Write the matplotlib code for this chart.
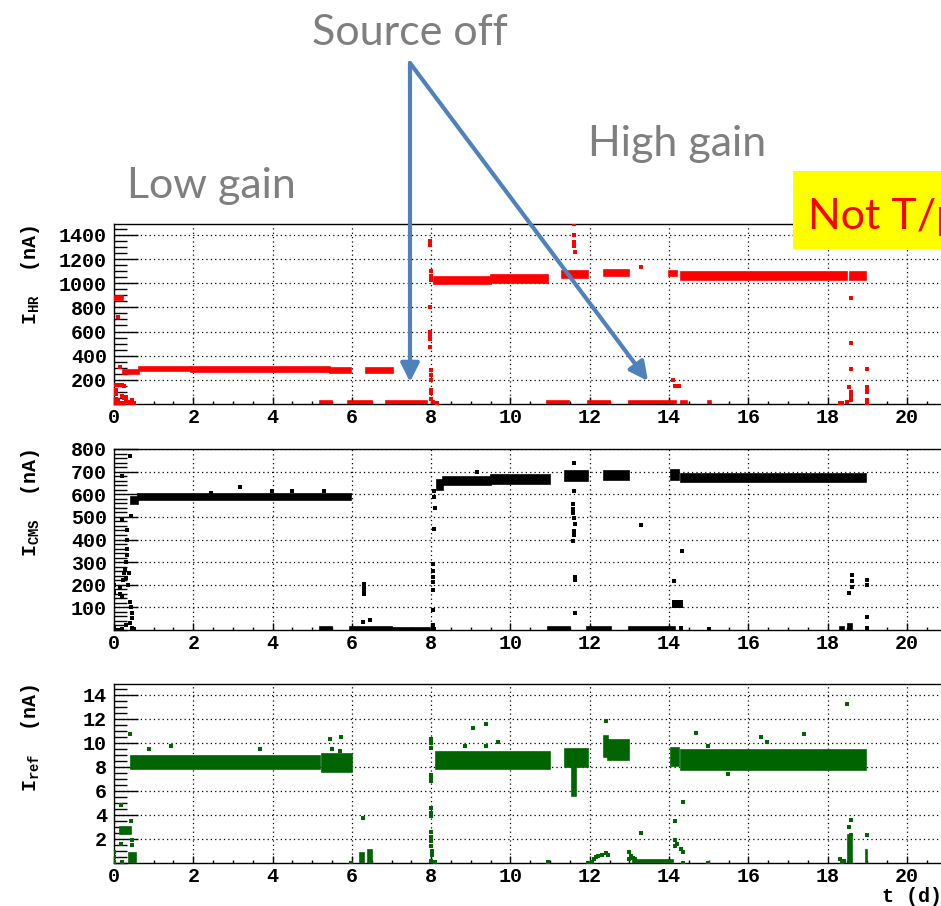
import matplotlib
matplotlib.use("Agg")
import matplotlib.pyplot as plt
from matplotlib.patches import Rectangle, FancyArrowPatch
from matplotlib.ticker import MultipleLocator, FixedLocator

plt.rcParams['font.family'] = ['Liberation Mono', 'DejaVu Sans Mono']
plt.rcParams['font.weight'] = 'bold'
plt.rcParams['mathtext.fontset'] = 'custom'
plt.rcParams['mathtext.rm'] = 'Liberation Mono:bold'
plt.rcParams['mathtext.it'] = 'Liberation Mono:bold'
plt.rcParams['mathtext.bf'] = 'Liberation Mono:bold'

# ---- I_HR (nA) ----
# dense stretches: start day, end day, low, high
hr_band_t0 = [0.0, 0.22, 0.62, 1.95, 5.45, 6.35, 8.08, 9.5, 11.31, 12.36, 14.0, 14.3, 18.56,
              5.2, 5.9, 6.85, 10.93, 11.95, 12.98, 14.3, 14.98]
hr_band_t1 = [0.22, 0.62, 1.95, 5.45, 5.97, 7.03, 9.5, 10.95, 11.96, 12.98, 14.2, 18.5, 18.96,
              5.5, 6.5, 7.9, 11.48, 12.5, 14.18, 14.45, 15.07]
hr_band_lo = [860, 245, 275, 265, 255, 260, 995, 1005, 1045, 1060, 1060, 1030, 1030,
              0, 0, 0, 0, 0, 0, 0, 0]
hr_band_hi = [895, 285, 310, 305, 300, 300, 1050, 1070, 1100, 1110, 1100, 1095, 1095,
              25, 25, 25, 25, 25, 25, 25, 25]
# isolated readings
hr_t = [0.1, 0.15, 0.05, 0.1, 0.15, 0.2, 0.25, 0.05, 0.05, 0.05, 0.05, 0.2, 0.25, 0.3, 0.3,
        0.35, 0.4, 0.45, 0.45, 0.5, 0.15, 0.25, 0.1,
        7.97, 7.97, 8.0, 8.0, 8.0, 7.98, 7.97, 7.97, 7.97, 7.97, 7.99, 7.99, 7.99, 8.0, 8.0,
        8.0, 8.05, 8.15,
        11.6, 11.6, 11.6, 11.6, 11.62, 13.28, 14.1, 14.15, 14.25,
        18.6, 18.6, 18.6, 18.55, 18.6, 18.6, 18.6, 18.5, 18.35, 18.3,
        18.98, 18.98, 18.98, 18.98, 18.98, 18.98]
hr_y = [720, 310, 160, 160, 160, 160, 150, 120, 80, 40, 10, 70, 50, 30, 60,
        20, 10, 30, 5, 10, 10, 10, 30,
        1350, 1320, 1100, 1060, 1030, 800, 600, 570, 540, 470, 280, 240, 200, 120, 90,
        40, 20, 10,
        1490, 1400, 1340, 1310, 1260, 1130, 200, 150, 150,
        874, 504, 293, 137, 100, 66, 33, 20, 10, 5,
        293, 140, 120, 100, 36, 5]

# ---- I_CMS (nA) ----
cms_band_t0 = [0.43, 0.6, 5.95, 7.0, 5.2, 8.15, 8.3, 9.5, 11.37, 12.36, 14.04, 14.3,
               10.95, 11.94, 12.98, 18.3, 18.52]
cms_band_t1 = [0.6, 5.98, 7.0, 7.97, 5.5, 8.3, 9.5, 11.0, 11.96, 12.98, 14.24, 18.97,
               11.5, 12.53, 14.15, 18.4, 18.62]
cms_band_lo = [555, 575, 0, 0, 0, 620, 640, 645, 658, 665, 665, 655,
               0, 0, 0, 0, 0]
cms_band_hi = [590, 600, 15, 8, 15, 665, 675, 687, 702, 702, 705, 690,
               15, 15, 15, 15, 25]
cms_t = [0.41, 0.21, 0.21, 0.43, 0.32, 0.33, 0.32, 0.33, 0.3, 0.28, 0.25, 0.3, 0.22, 0.35,
         0.38, 0.0, 0.0, 0.15, 0.15, 0.2, 0.4, 0.42, 0.45, 0.45, 0.0, 0.1, 0.2, 0.3, 0.4,
         0.45, 0.5,
         3.18, 3.98, 4.48, 5.3, 2.45,
         6.28, 6.45, 6.3, 6.3, 6.3, 6.3,
         8.05, 8.05, 8.05, 8.05, 8.05, 8.05, 8.08, 8.1, 8.08, 8.08, 8.05, 8.08,
         9.15,
         11.6, 11.6, 11.58, 11.58, 11.58, 11.6, 11.62, 11.6, 11.6, 11.58, 11.62, 11.62, 11.62,
         13.28, 14.33, 14.12, 14.12, 14.2, 14.3, 14.12, 14.2, 14.3, 14.3, 15.0,
         18.54, 18.62, 18.62, 18.62, 18.98, 18.98, 18.98, 18.98]
cms_y = [767, 680, 485, 504, 440, 400, 360, 330, 300, 270, 250, 230, 220, 200,
         250, 200, 170, 190, 160, 150, 124, 102, 73, 55, 10, 0, 5, 20, 30,
         10, 5,
         632, 614, 614, 614, 605,
         37, 44, 205, 190, 175, 160,
         88, 175, 292, 260, 235, 212, 446, 538, 614, 590, 20, 5,
         699,
         738, 614, 556, 535, 519, 497, 468, 439, 420, 395, 234, 220, 76,
         465, 351, 216, 124, 124, 124, 105, 105, 105, 10, 5,
         164, 241, 215, 190, 219, 197, 58, 8]

# ---- I_ref (nA) ----
ref_band_t0 = [0.43, 5.25, 8.12, 11.37, 11.55, 12.36, 12.45, 14.04, 14.3, 13.1,
               18.52, 18.96, 6.2, 6.4, 0.38, 0.15]
ref_band_t1 = [5.2, 6.0, 11.0, 11.96, 11.65, 12.45, 13.0, 14.24, 18.97, 14.1,
               18.62, 19.0, 6.3, 6.5, 0.55, 0.42]
ref_band_lo = [7.8, 7.6, 7.8, 8.0, 5.6, 8.8, 8.6, 8.1, 7.75, 0.0,
               0.0, 0.0, 0.0, 0.0, 0.0, 2.4]
ref_band_hi = [8.9, 9.1, 9.2, 9.5, 8.0, 10.6, 10.2, 9.6, 9.4, 0.25,
               2.3, 1.05, 0.8, 1.05, 0.8, 3.0]
ref_t = [0.89, 1.43, 3.68, 0.41, 5.46, 5.72, 5.5, 5.7,
         0.0, 0.0, 0.0, 0.17, 0.17, 0.2, 0.44, 0.46, 0.46,
         5.98, 6.27,
         8.0, 8.0, 8.0, 8.0, 8.0, 8.0, 8.0, 8.0, 8.0, 8.0, 8.0, 8.0, 8.0, 8.03, 8.03, 8.0, 8.1,
         8.85, 9.06, 9.38, 9.38, 9.69, 10.95,
         11.95, 12.0, 12.05, 12.1, 12.15, 12.2, 12.3, 12.4, 12.45, 12.4,
         13.0, 13.05, 13.1, 13.15, 13.0, 13.28,
         14.69, 14.98, 15.48, 16.33, 16.46, 17.4, 18.5,
         14.15, 14.35, 14.15, 14.2, 14.3, 14.35, 14.15, 14.35, 14.99,
         18.35, 18.42, 18.3, 18.55, 18.58, 18.58, 18.98]
ref_y = [9.45, 9.7, 9.45, 10.7, 10.3, 10.5, 9.5, 9.3,
         0.9, 0.5, 0.1, 4.8, 1.6, 0.1, 3.5, 1.9, 1.5,
         0.0, 3.77,
         10.3, 10.0, 9.6, 7.3, 7.0, 6.8, 4.6, 4.2, 3.9, 2.6, 2.2, 1.8, 1.4, 1.0, 0.7, 0.2, 0.1,
         9.7, 11.2, 11.6, 9.7, 10.1, 0.08,
         0.0, 0.0, 0.1, 0.3, 0.5, 0.6, 0.7, 0.8, 0.7, 11.85,
         0.9, 0.6, 0.4, 0.3, 0.3, 2.5,
         10.8, 9.7, 7.4, 10.5, 10.05, 10.7, 13.2,
         3.5, 5.1, 1.9, 1.6, 1.2, 0.9, 1.4, 0.0, 0.0,
         0.1, 0.2, 0.3, 3.0, 3.6, 2.3, 2.35]

W, H = 941, 906
fig = plt.figure(figsize=(W / 100, H / 100), dpi=100)


def fx(px):
    return px / W


def fy(py):
    return 1 - py / H


x_left, x_right = 114, 946.6
panels = [
    # top px, bottom px, ymax, major, minor, label, data, colour, label top px
    (224, 404, 1490, 200, 50, r"$\mathrm{I_{HR}}$  (nA)",
     (hr_band_t0, hr_band_t1, hr_band_lo, hr_band_hi, hr_t, hr_y), '#ff0000', 225),
    (449, 630, 800, 100, 20, r"$\mathrm{I_{CMS}}$  (nA)",
     (cms_band_t0, cms_band_t1, cms_band_lo, cms_band_hi, cms_t, cms_y), '#000000', 448),
    (684, 863, 14.9, 2, 0.5, r"$\mathrm{I_{ref}}$  (nA)",
     (ref_band_t0, ref_band_t1, ref_band_lo, ref_band_hi, ref_t, ref_y), '#006400', 683),
]

for top, bottom, ymax, major, minor, label, data, color, ltop in panels:
    ax = fig.add_axes([fx(x_left), fy(bottom), fx(x_right - x_left), (bottom - top) / H])
    t0, t1, lo, hi, pt, py = data
    ax.bar(t0, [h - l for h, l in zip(hi, lo)], bottom=lo,
           width=[b - a for a, b in zip(t0, t1)], align='edge',
           color=color, edgecolor=color, linewidth=1.2, zorder=3)
    ax.plot(pt, py, 's', ms=3.3, mew=0, color=color, zorder=3)
    ax.set_xlim(0, 21)
    ax.set_ylim(0, ymax)
    ax.xaxis.set_major_locator(MultipleLocator(2))
    ax.xaxis.set_minor_locator(MultipleLocator(0.5))
    n = int(ymax // major)
    ax.yaxis.set_major_locator(FixedLocator([major * (i + 1) for i in range(n)]))
    ax.yaxis.set_minor_locator(MultipleLocator(minor))
    ax.tick_params(axis='x', which='major', direction='in', length=5, width=1,
                   labelsize=14.4, pad=3, top=False)
    ax.tick_params(axis='x', which='minor', direction='in', length=2.5, width=1, top=False)
    ax.tick_params(axis='y', which='major', direction='in', length=17, width=1,
                   labelsize=14.4, pad=5, right=False)
    ax.tick_params(axis='y', which='minor', direction='in', length=9, width=1, right=False)
    ax.grid(True, which='major', color='black', linestyle=(0, (1, 2.5)), linewidth=0.9)
    ax.set_axisbelow(True)
    for s in ax.spines.values():
        s.set_linewidth(1.0)
    fig.text(fx(30), fy(ltop), label, rotation=90, ha='center', va='top',
             fontsize=14.4, fontweight='bold')

fig.text(fx(882), fy(897), "t (d)", ha='left', va='center', fontsize=14.4,
         fontweight='bold')

# annotations drawn over the slide
grey = '#7f7f7f'
fig.text(fx(410), fy(45), "Source off", ha='center', va='baseline', color=grey,
         fontsize=31, family='Lato', fontweight='normal')
fig.text(fx(677), fy(156), "High gain", ha='center', va='baseline', color=grey,
         fontsize=31, family='Lato', fontweight='normal')
fig.text(fx(211), fy(198), "Low gain", ha='center', va='baseline', color=grey,
         fontsize=31, family='Lato', fontweight='normal')

fig.add_artist(Rectangle((fx(793), fy(249)), fx(160), (249 - 171) / H,
                         transform=fig.transFigure, facecolor='#ffff00',
                         edgecolor='none', zorder=10))
fig.text(fx(808), fy(229), "Not T/p", ha='left', va='baseline',
         color='#ff0000', fontsize=31, family='Lato', fontweight='normal', zorder=11)

for end in [(410, 382), (648, 381)]:
    fig.add_artist(FancyArrowPatch((fx(410), fy(63)), (fx(end[0]), fy(end[1])),
                                   transform=fig.transFigure,
                                   arrowstyle='-|>,head_length=0.8,head_width=0.4',
                                   mutation_scale=14, color='#4f81bd', linewidth=3,
                                   shrinkA=0, shrinkB=0, zorder=12))

fig.savefig("out.png", dpi=100)
